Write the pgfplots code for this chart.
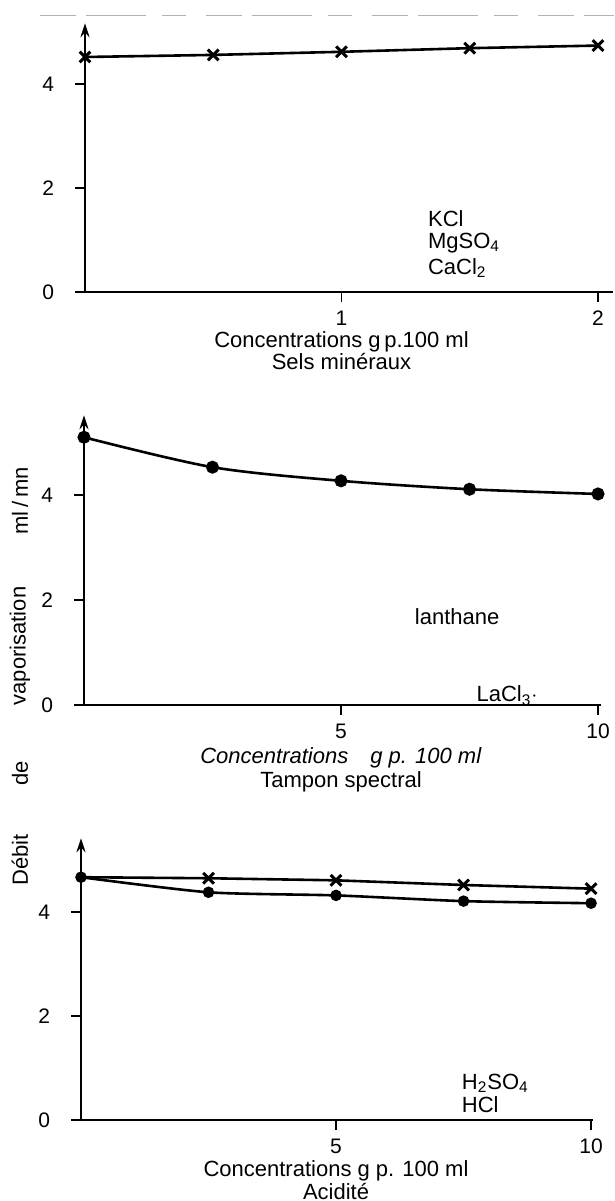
\documentclass[border=0pt]{standalone}
\usepackage{fontspec}
\setmainfont{Liberation Sans}
\usepackage{pgfplots}
\pgfplotsset{compat=1.18}
\usetikzlibrary{arrows.meta}

\pgfplotsset{
 panel/.style={
  scale only axis, anchor=south west,
  axis lines=left,
  axis line style={line width=1.1pt},
  x axis line style={-},
  y axis line style={-{Stealth[length=7pt,width=4.5pt]}},
  xmin=0, ymin=0,
  ytick={0,2,4},
  tick align=outside,
  major tick length=5pt,
  tick style={black, line width=0.9pt},
  tick label style={font=\fontsize{10.5}{12}\selectfont},
  xticklabel style={yshift=-1pt},
  yticklabel style={xshift=-7pt},
  /pgf/number format/assume math mode=true,
  clip=false,
 },
}
\tikzset{lbl/.style={font=\fontsize{11}{13}\selectfont}}

\begin{document}
\begin{tikzpicture}
\useasboundingbox (0,0) rectangle (307.5pt,-600.5pt);

% scan artefact line at top
\draw[gray!60, line width=0.4pt, dash pattern=on 18pt off 5pt on 30pt off 8pt on 12pt off 10pt] (20pt,-7.5pt) -- (307pt,-7.5pt);

% ---------------- Panel 1 ----------------
\begin{axis}[panel, at={(42.5pt,-146pt)}, width=264.2pt, height=134.4pt,
  xmax=2.06, ymax=5.17, xtick={1,2}]
\addplot[black, line width=1.3pt, mark=x, mark size=3.8pt, mark options={line width=1.5pt}]
  coordinates {(0,4.52) (0.5,4.56) (1,4.62) (1.5,4.69) (2,4.74)};
\node[lbl, anchor=west] at (axis cs:1.31,1.42) {KCl};
\node[lbl, anchor=west] at (axis cs:1.31,0.94) {MgSO\textsubscript{4}};
\node[lbl, anchor=west] at (axis cs:1.31,0.46) {CaCl\textsubscript{2}};
\node[lbl, anchor=base, yshift=-27.5pt] at (axis cs:1,0) {Concentrations g\,p.100 ml};
\node[lbl, anchor=base, yshift=-38.5pt] at (axis cs:1,0) {Sels minéraux};
\end{axis}

% ---------------- Panel 2 ----------------
\begin{axis}[panel, at={(42pt,-352.5pt)}, width=258.3pt, height=144.9pt,
  xmax=10.05, ymax=5.52, xtick={5,10}]
\addplot[black, line width=1.3pt, smooth, tension=0.5, mark=*, mark size=2.6pt]
  coordinates {(0,5.1) (2.5,4.53) (5,4.27) (7.5,4.11) (10,4.02)};
\node[lbl, anchor=west] at (axis cs:6.3,1.68) {lanthane};
\node[lbl, anchor=base west] at (axis cs:7.5,0.06) {LaCl\textsubscript{3}$\cdot$};
\node[lbl, anchor=base, yshift=-29pt] at (axis cs:5,0) {\textit{Concentrations\quad g p. 100 ml}};
\node[lbl, anchor=base, yshift=-41pt] at (axis cs:5,0) {Tampon spectral};
\end{axis}

% ---------------- Panel 3 ----------------
\begin{axis}[panel, at={(40.5pt,-560pt)}, width=255.8pt, height=140.9pt,
  xmax=10.03, ymax=5.42, xtick={5,10}]
\addplot[black, line width=1.3pt, mark=x, mark size=3.8pt, mark options={line width=1.5pt},
  mark indices={2,3,4,5}]
  coordinates {(0,4.67) (2.5,4.65) (5,4.61) (7.5,4.52) (10,4.45)};
\addplot[black, line width=1.3pt, smooth, tension=0.4, mark=*, mark size=2.2pt]
  coordinates {(0,4.67) (2.5,4.38) (5,4.32) (7.5,4.21) (10,4.17)};
\node[lbl, anchor=west] at (axis cs:7.33,0.71) {H\textsubscript{2}SO\textsubscript{4}};
\node[lbl, anchor=west] at (axis cs:7.33,0.29) {HCl};
\node[lbl, anchor=base, yshift=-28pt] at (axis cs:5,0) {Concentrations g p. 100 ml};
\node[lbl, anchor=base, yshift=-39.5pt] at (axis cs:5,0) {Acidité};
\end{axis}

% ---------------- shared y label ----------------
\node[lbl, rotate=90] at (10pt,-430pt) {Débit};
\node[lbl, rotate=90] at (10pt,-386.5pt) {de};
\node[lbl, rotate=90] at (10pt,-323pt) {vaporisation};
\node[lbl, rotate=90] at (10pt,-250.5pt) {ml\,/\,mn};
\end{tikzpicture}
\end{document}
